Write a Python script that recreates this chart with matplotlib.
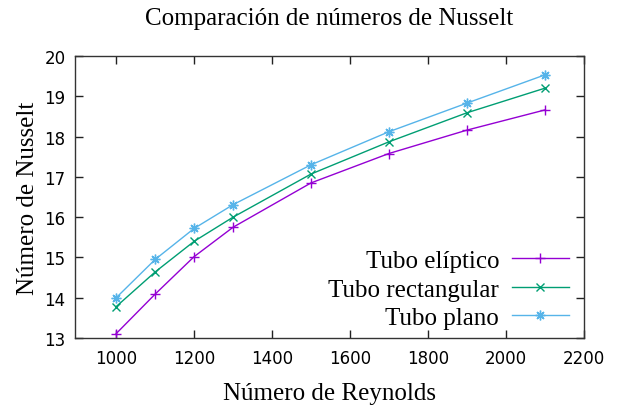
import matplotlib
matplotlib.use("Agg")
import matplotlib.pyplot as plt

# Números de Reynolds y Nusselt para cada geometría de tubo
reynolds = [1000, 1100, 1200, 1300, 1500, 1700, 1900, 2100]
nu_eliptico = [13.11, 14.09, 15.02, 15.75, 16.85, 17.58, 18.16, 18.66]
nu_rectangular = [13.78, 14.64, 15.40, 16.00, 17.07, 17.87, 18.59, 19.20]
nu_plano = [14.00, 14.95, 15.72, 16.31, 17.30, 18.12, 18.83, 19.53]

xticks = [1000, 1200, 1400, 1600, 1800, 2000, 2200]
yticks = [13, 14, 15, 16, 17, 18, 19, 20]

serif = "Liberation Serif"

fig = plt.figure(figsize=(6.27, 4.10), dpi=100)
ax = fig.add_axes([0.12, 0.173, 0.811, 0.688])

ax.plot(reynolds, nu_eliptico, color="#9400D3", lw=1, marker="+", ms=7,
        label="Tubo elíptico")
ax.plot(reynolds, nu_rectangular, color="#009E73", lw=1, marker="x", ms=6,
        label="Tubo rectangular")
ax.plot(reynolds, nu_plano, color="#56B4E9", lw=1, marker=(8, 2, 0), ms=7,
        label="Tubo plano")

ax.set_xlim(895, 2200)
ax.set_ylim(13, 20)
ax.set_xticks(xticks)
ax.set_yticks(yticks)
ax.tick_params(direction="in", length=6, width=1, top=True, right=True,
               labelsize=12, colors="#222222", labelcolor="black")
ax.tick_params(axis="x", pad=8)
ax.tick_params(axis="y", pad=7)
for s in ax.spines.values():
    s.set_linewidth(1)
    s.set_color("#333333")

ax.set_title("Comparación de números de Nusselt", family=serif, fontsize=18,
             pad=23)
ax.set_xlabel("Número de Reynolds", family=serif, fontsize=18, labelpad=11)
ax.set_ylabel("Número de Nusselt", family=serif, fontsize=18, labelpad=4)

leg = ax.legend(loc="lower right", frameon=False, markerfirst=False,
                prop={"family": serif, "size": 18}, handlelength=2.3,
                handletextpad=0.5, labelspacing=0.24, borderpad=0,
                bbox_to_anchor=(0.996, -0.013))
for t in leg.get_texts():
    t.set_ha("right")

fig.savefig("out.png", dpi=100)
